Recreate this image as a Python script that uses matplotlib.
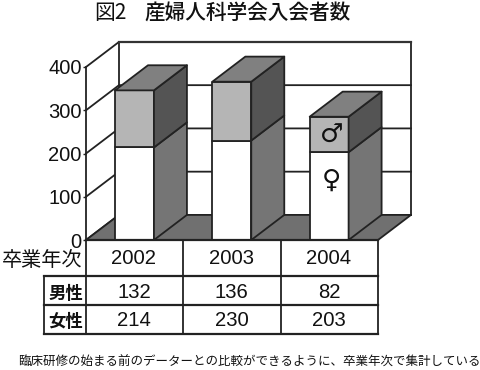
import matplotlib
matplotlib.use('Agg')
import matplotlib.pyplot as plt
from matplotlib.patches import Polygon

plt.rcParams['font.family'] = ['Liberation Sans', 'Noto Sans CJK JP', 'DejaVu Sans']

years = ['2002', '2003', '2004']
male = [132, 136, 82]
female = [214, 230, 203]
yticks = [0, 100, 200, 300, 400]
row_labels = ['男性', '女性']

title_a = '図2'
title_b = '産婦人科学会入会者数'
year_label = '卒業年次'
note = '臨床研修の始まる前のデーターとの比較ができるように、卒業年次で集計している'

W, H = 481, 370
edge = '#222222'
line = 1.3
depth_x = 0.339
depth_y = 58
bar_w = 0.40


def fx(px):
    return px / W


def fy(py):
    return 1 - py / H


fig = plt.figure(figsize=(W / 100, H / 100), dpi=100)
ax = fig.add_axes([fx(86), fy(240), 292 / W, 173 / H])
ax.set_xlim(0, 3)
ax.set_ylim(0, 400)
ax.patch.set_visible(False)
for s in ['top', 'right', 'bottom']:
    ax.spines[s].set_visible(False)
ax.spines['left'].set_linewidth(line)
ax.spines['left'].set_color(edge)
ax.set_xticks([])
ax.set_yticks(yticks)
ax.tick_params(axis='y', length=2, width=1, color=edge, pad=1, labelsize=14.5, labelcolor='#111111')


def poly(pts, color, z):
    ax.add_patch(Polygon(pts, closed=True, facecolor=color, edgecolor=edge,
                         linewidth=line, clip_on=False, zorder=z, joinstyle='round'))


# walls and grid
for v in yticks:
    ax.plot([0, depth_x, 3 + depth_x], [v, v + depth_y, v + depth_y],
            color=edge, lw=line, clip_on=False, zorder=1)
ax.plot([depth_x, depth_x], [depth_y, 400 + depth_y], color=edge, lw=line, clip_on=False, zorder=1)
ax.plot([3 + depth_x, 3 + depth_x], [depth_y, 400 + depth_y], color=edge, lw=line, clip_on=False, zorder=1)
ax.plot([depth_x, 3 + depth_x], [400 + depth_y, 400 + depth_y], color='#333333', lw=1.6, clip_on=False, zorder=1)

# floor
poly([(0, 0), (3, 0), (3 + depth_x, depth_y), (depth_x, depth_y)], '#707070', 2)

# bars
for i in range(3):
    x0 = i + 0.498 - bar_w / 2
    x1 = x0 + bar_w
    f = female[i]
    t = female[i] + male[i]
    z = 3 + i
    poly([(x0, 0), (x1, 0), (x1, f), (x0, f)], 'white', z)
    poly([(x0, f), (x1, f), (x1, t), (x0, t)], '#b5b5b5', z)
    poly([(x1, 0), (x1 + depth_x, depth_y), (x1 + depth_x, f + depth_y), (x1, f)], '#757575', z)
    poly([(x1, f), (x1 + depth_x, f + depth_y), (x1 + depth_x, t + depth_y), (x1, t)], '#545454', z)
    poly([(x0, t), (x1, t), (x1 + depth_x, t + depth_y), (x0 + depth_x, t + depth_y)], '#808080', z)

ax.text(2.52, female[2] + male[2] / 2 - 4, '♂', family='DejaVu Sans', fontsize=19,
        ha='center', va='center', color='#111111', zorder=10)
ax.text(2.52, 136, '♀', family='DejaVu Sans', fontsize=19,
        ha='center', va='center', color='#111111', zorder=10)

# table below the axis
col_x = [86, 183, 281, 378]
row_y = [240, 276, 305, 334]
left_x = 44


def hline(x0, x1, py, lw=1.6):
    fig.add_artist(plt.Line2D([fx(x0), fx(x1)], [fy(py), fy(py)], color=edge, lw=lw))


def vline(px, y0, y1, lw=1.3):
    fig.add_artist(plt.Line2D([fx(px), fx(px)], [fy(y0), fy(y1)], color=edge, lw=lw))


hline(col_x[0], col_x[3], row_y[0])
for py in row_y[1:]:
    hline(left_x, col_x[3], py)
for px in col_x:
    vline(px, row_y[0], row_y[3])
vline(left_x, row_y[1], row_y[3])

fig.text(fx(82), fy(261), year_label, fontsize=14.5, ha='right', va='center', color='#111111',
         family=['Noto Sans CJK JP', 'DejaVu Sans'])
for i in range(3):
    cx = fx((col_x[i] + col_x[i + 1]) / 2 - 0.5)
    fig.text(cx, fy(258), years[i], fontsize=14.6, ha='center', va='center', color='#111111')
    fig.text(cx, fy(292), str(male[i]), fontsize=14.6, ha='center', va='center', color='#111111')
    fig.text(cx, fy(321), str(female[i]), fontsize=14.6, ha='center', va='center', color='#111111')
for label, py in zip(row_labels, [294, 322]):
    fig.text(fx(65.5), fy(py), label, fontsize=12.5, fontweight='bold', ha='center', va='center',
             color='#111111', family=['Noto Sans CJK JP', 'DejaVu Sans'])

fig.text(fx(94), fy(13), title_a, fontsize=15, ha='left', va='center', color='#111111',
         family=['Noto Sans CJK JP', 'DejaVu Sans'])
fig.text(fx(351), fy(13), title_b, fontsize=14.9, fontweight='medium', ha='right', va='center',
         color='#111111', family=['Noto Sans CJK JP', 'DejaVu Sans'])
fig.text(fx(481), fy(362), note, fontsize=9.0, ha='right', va='center', color='#111111',
         family=['Noto Sans CJK JP', 'DejaVu Sans'])

fig.savefig('out.png', dpi=100)
